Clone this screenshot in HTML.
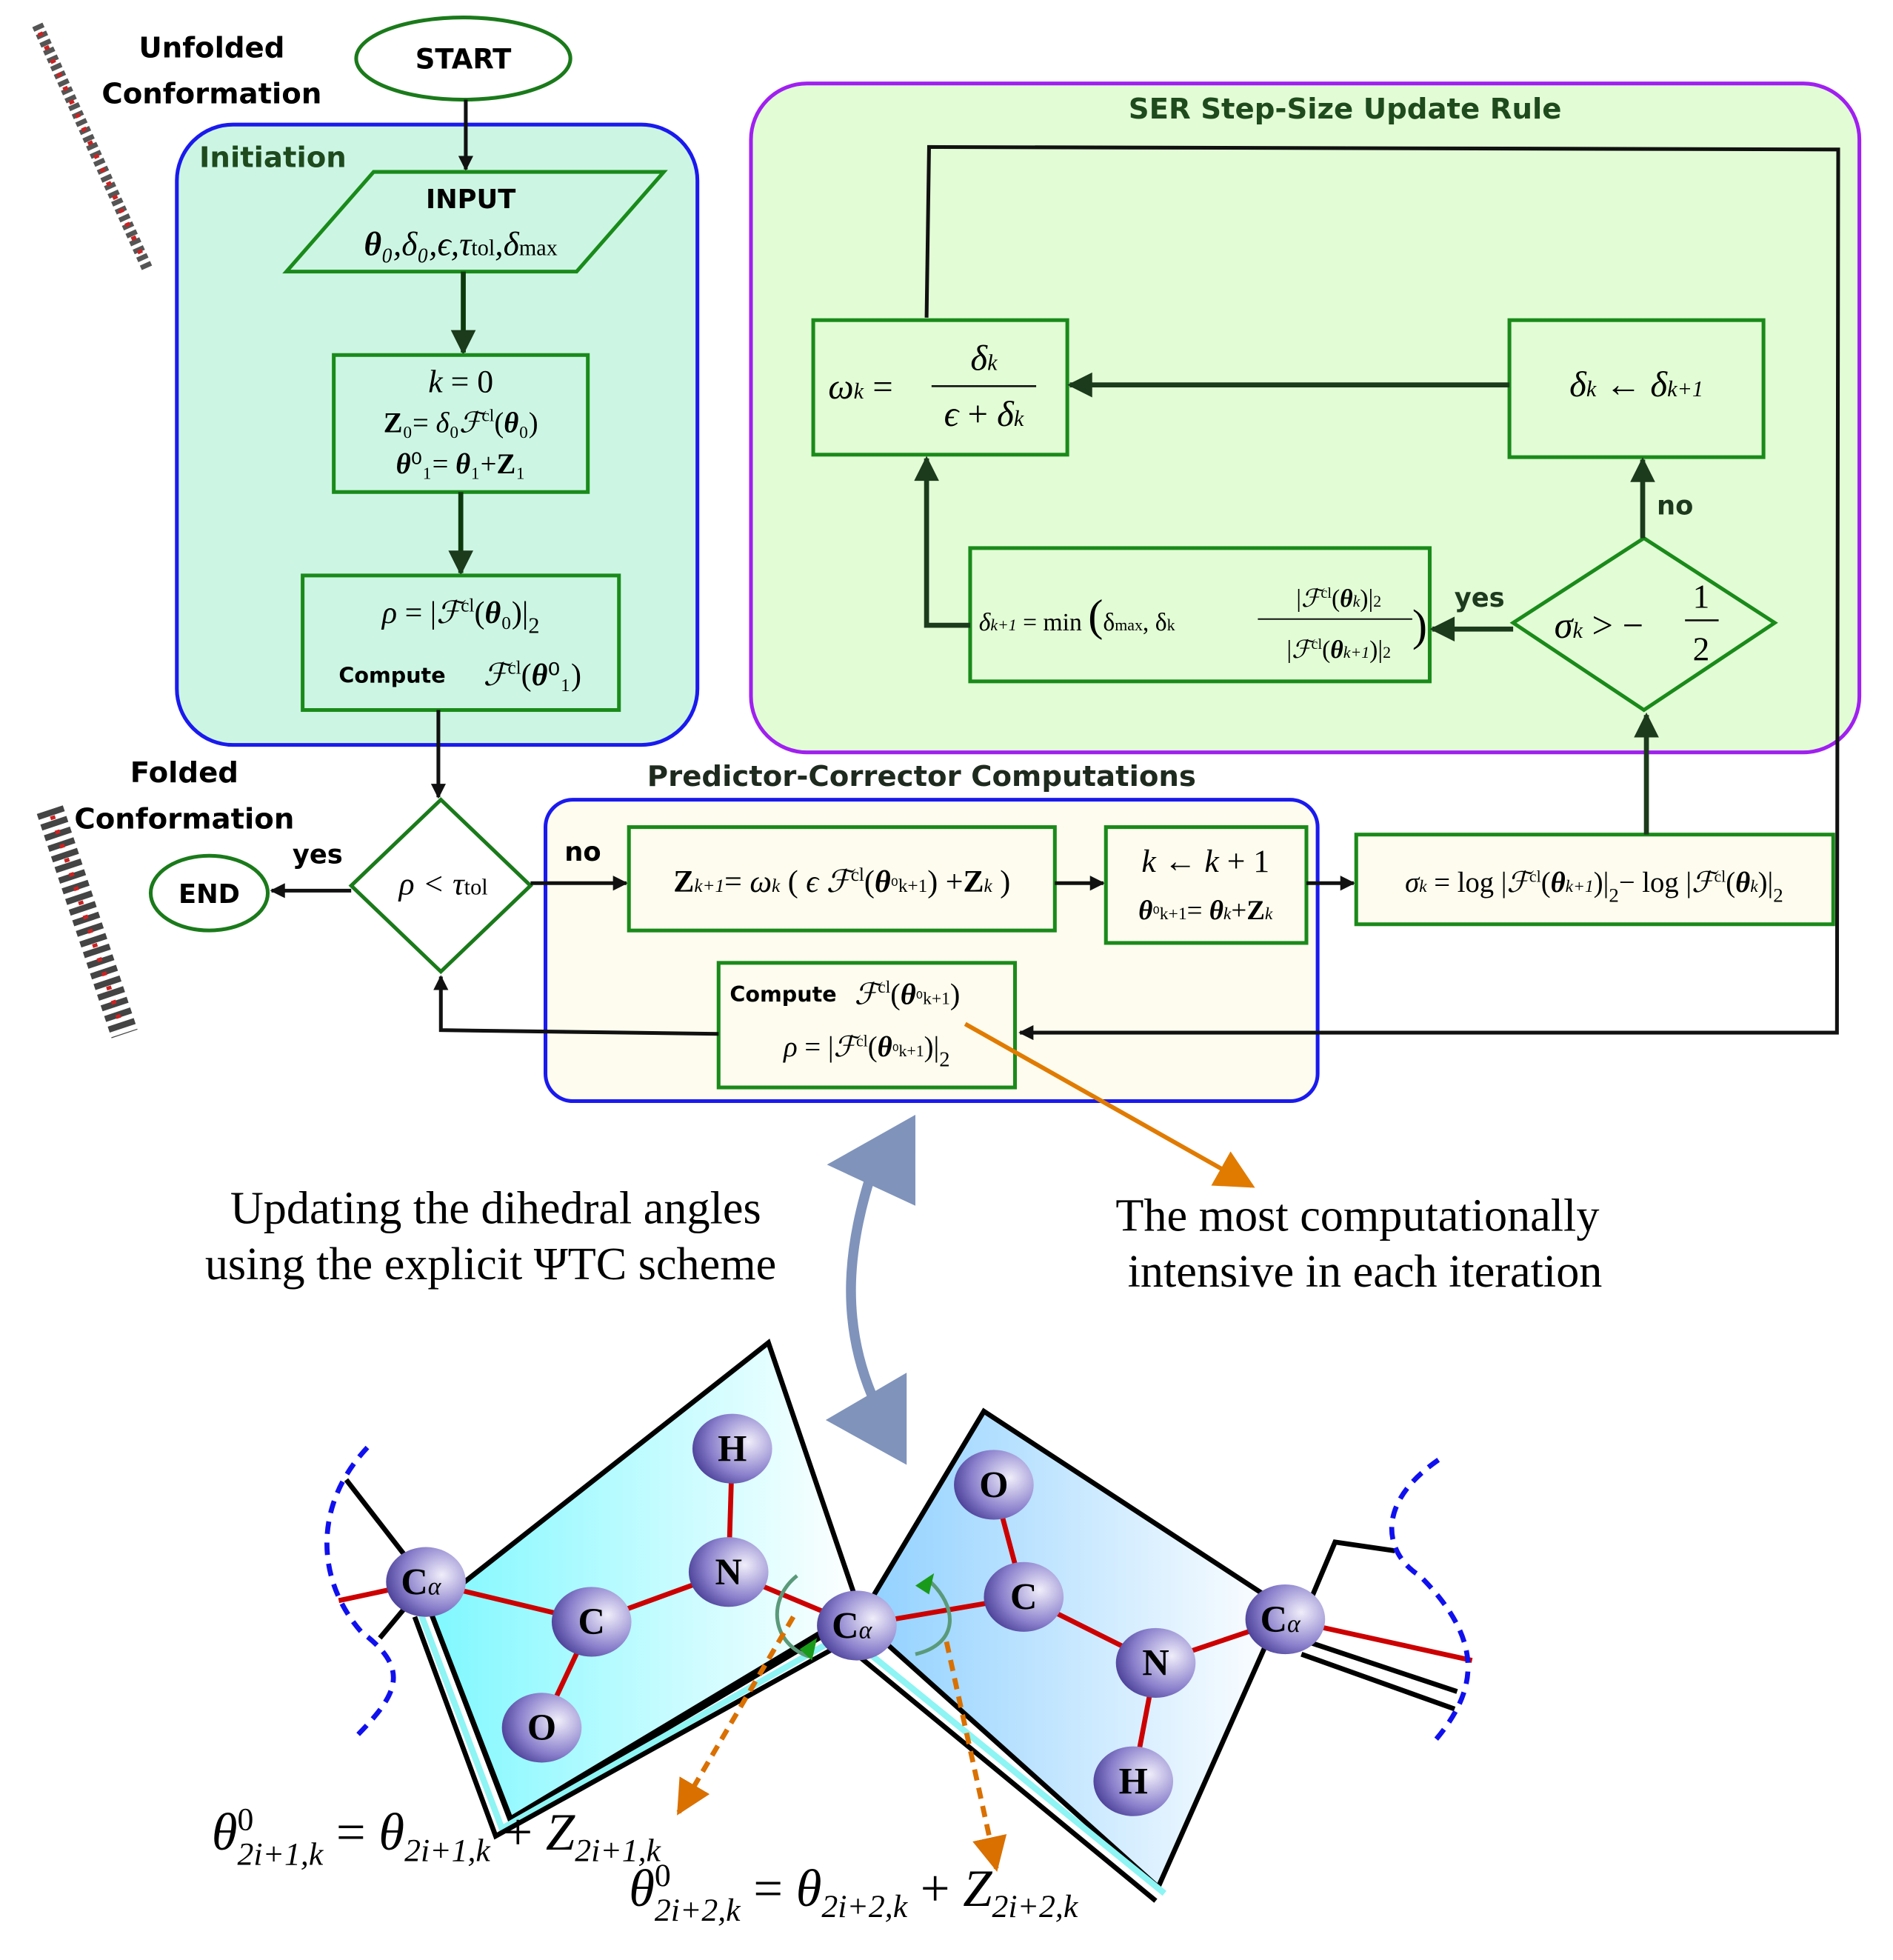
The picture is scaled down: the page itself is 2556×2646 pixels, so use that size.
<!DOCTYPE html>
<html><head><meta charset="utf-8"><style>
html,body{margin:0;padding:0;background:#fff}
svg{display:block}
.b{font-family:"DejaVu Sans","Liberation Sans",sans-serif;font-weight:bold}
.m{font-family:"Liberation Serif",serif}
</style></head><body>
<svg width="2556" height="2646" viewBox="0 0 1520 1573.5" xmlns="http://www.w3.org/2000/svg">
<defs>
<marker id="ah" viewBox="0 0 10 10" refX="9" refY="5" markerWidth="14" markerHeight="12" orient="auto" markerUnits="userSpaceOnUse"><path d="M0,0 L10,5 L0,10 z" fill="#111"/></marker>
<marker id="ahd" viewBox="0 0 10 10" refX="9" refY="5" markerWidth="22" markerHeight="20" orient="auto" markerUnits="userSpaceOnUse"><path d="M0,0 L10,5 L0,10 z" fill="#1c3a1c"/></marker>
<marker id="ao" viewBox="0 0 10 10" refX="9" refY="5" markerWidth="9" markerHeight="9" orient="auto"><path d="M0,0 L10,5 L0,10 z" fill="#e07b00"/></marker>
<marker id="aod" viewBox="0 0 10 10" refX="9" refY="5" markerWidth="7" markerHeight="9" orient="auto"><path d="M0,0 L10,5 L0,10 z" fill="#d97000"/></marker>
<linearGradient id="g1" x1="0" y1="0" x2="1" y2="0"><stop offset="0" stop-color="#7ff8ff"/><stop offset="1" stop-color="#ffffff"/></linearGradient>
<linearGradient id="g2" x1="0" y1="0" x2="1" y2="0"><stop offset="0" stop-color="#8fd0ff"/><stop offset="1" stop-color="#ffffff"/></linearGradient>
<radialGradient id="at" cx="0.7" cy="0.4" r="0.8"><stop offset="0" stop-color="#f0eefa"/><stop offset="0.6" stop-color="#8a80cc"/><stop offset="1" stop-color="#3a2f8a"/></radialGradient>
</defs>

<!-- molecule sketches top-left -->
<g stroke="#555" stroke-width="9" stroke-dasharray="4 3">
<line x1="30" y1="20" x2="118" y2="215"/>
</g>
<g stroke="#444" stroke-width="22" stroke-dasharray="5 4">
<line x1="40" y1="650" x2="100" y2="830"/>
</g>
<g stroke="#c22" stroke-width="4" stroke-dasharray="3 9"><line x1="32" y1="26" x2="116" y2="210"/><line x1="42" y1="655" x2="98" y2="825"/></g>
<text class="b" x="170" y="46" font-size="23" text-anchor="middle">Unfolded</text>
<text class="b" x="170" y="83" font-size="23" text-anchor="middle">Conformation</text>
<text class="b" x="148" y="628" font-size="23" text-anchor="middle">Folded</text>
<text class="b" x="148" y="665" font-size="23" text-anchor="middle">Conformation</text>

<!-- SER box -->
<rect x="603" y="67" width="890" height="537" rx="45" fill="#e2fdd5" stroke="#a020f0" stroke-width="3"/>
<text class="b" x="1080" y="95" font-size="23" fill="#1e4a1e" text-anchor="middle">SER Step-Size Update Rule</text>

<!-- Initiation box -->
<rect x="142" y="100" width="418" height="498" rx="45" fill="#ccf6e3" stroke="#1a1aee" stroke-width="3"/>
<text class="b" x="160" y="134" font-size="23" fill="#1e4a1e">Initiation</text>

<!-- Predictor box -->
<rect x="438" y="642" width="620" height="242" rx="22" fill="#fdfcee" stroke="#1a1aee" stroke-width="3"/>
<text class="b" x="740" y="631" font-size="23" fill="#1e2a1e" text-anchor="middle">Predictor-Corrector Computations</text>

<!-- START -->
<ellipse cx="372" cy="47" rx="86" ry="33" fill="#fff" stroke="#1a7a1a" stroke-width="3"/>
<text class="b" x="372" y="55" font-size="22" text-anchor="middle">START</text>
<line x1="374" y1="80" x2="374" y2="136" stroke="#111" stroke-width="3" marker-end="url(#ah)"/>

<!-- INPUT -->
<polygon points="300,138 533,138 463,218 230,218" fill="#ccf6e3" stroke="#1a8a1a" stroke-width="3"/>
<text class="b" x="378" y="167" font-size="21" text-anchor="middle">INPUT</text>
<text class="m" x="370" y="205" font-size="27" text-anchor="middle" font-style="italic"><tspan font-weight="bold">θ</tspan>₀,δ₀,ϵ,τ<tspan font-style="normal" font-size="18">tol</tspan>,δ<tspan font-style="normal" font-size="18">max</tspan></text>
<line x1="372" y1="218" x2="372" y2="283" stroke="#0d3a0d" stroke-width="4" marker-end="url(#ahd)"/>

<!-- k=0 box -->
<rect x="268" y="285" width="204" height="110" fill="#ccf6e3" stroke="#1a8a1a" stroke-width="3"/>
<text class="m" x="370" y="315" font-size="26" text-anchor="middle"><tspan font-style="italic">k</tspan> = 0</text>
<text class="m" x="370" y="347" font-size="23" text-anchor="middle"><tspan font-weight="bold">Z</tspan>₀= <tspan font-style="italic">δ</tspan>₀<tspan font-style="italic">ℱ</tspan><tspan font-size="14" dy="-9">cl</tspan><tspan dy="9">(</tspan><tspan font-weight="bold" font-style="italic">θ</tspan>₀)</text>
<text class="m" x="370" y="380" font-size="23" text-anchor="middle"><tspan font-weight="bold" font-style="italic">θ</tspan>⁰₁= <tspan font-weight="bold" font-style="italic">θ</tspan>₁+<tspan font-weight="bold">Z</tspan>₁</text>
<line x1="370" y1="395" x2="370" y2="460" stroke="#0d3a0d" stroke-width="4" marker-end="url(#ahd)"/>

<!-- rho box -->
<rect x="243" y="462" width="254" height="108" fill="#ccf6e3" stroke="#1a8a1a" stroke-width="3"/>
<text class="m" x="370" y="500" font-size="25" text-anchor="middle"><tspan font-style="italic">ρ</tspan> = |<tspan font-style="italic">ℱ</tspan><tspan font-size="15" dy="-9">cl</tspan><tspan dy="9">(</tspan><tspan font-weight="bold" font-style="italic">θ</tspan>₀)|<tspan font-size="18" dy="8">2</tspan></text>
<text class="b" x="272" y="548" font-size="17">Compute</text>
<text class="m" x="388" y="550" font-size="25"><tspan font-style="italic">ℱ</tspan><tspan font-size="15" dy="-9">cl</tspan><tspan dy="9">(</tspan><tspan font-weight="bold" font-style="italic">θ</tspan>⁰₁)</text>
<line x1="352" y1="570" x2="352" y2="640" stroke="#111" stroke-width="3" marker-end="url(#ah)"/>

<!-- diamond rho<tau -->
<polygon points="354,642 426,711 354,780 282,711" fill="#fff" stroke="#1a7a1a" stroke-width="3"/>
<text class="m" x="356" y="718" font-size="26" text-anchor="middle" font-style="italic">ρ &lt; τ<tspan font-style="normal" font-size="18">tol</tspan></text>
<line x1="282" y1="715" x2="218" y2="715" stroke="#111" stroke-width="3" marker-end="url(#ah)"/>
<text class="b" x="255" y="693" font-size="21" text-anchor="middle">yes</text>
<ellipse cx="168" cy="717" rx="47" ry="30" fill="#fff" stroke="#1a7a1a" stroke-width="3"/>
<text class="b" x="168" y="725" font-size="21" text-anchor="middle">END</text>
<line x1="426" y1="709" x2="503" y2="709" stroke="#111" stroke-width="3" marker-end="url(#ah)"/>
<text class="b" x="468" y="691" font-size="21" text-anchor="middle">no</text>

<!-- Z box -->
<rect x="505" y="664" width="342" height="83" fill="#fdfcee" stroke="#1a8a1a" stroke-width="3"/>
<text class="m" x="676" y="716" font-size="25" text-anchor="middle"><tspan font-weight="bold">Z</tspan><tspan font-size="15" font-style="italic">k+1</tspan>= <tspan font-style="italic">ω<tspan font-size="15">k</tspan></tspan> ( <tspan font-style="italic">ϵ ℱ</tspan><tspan font-size="15" dy="-9">cl</tspan><tspan dy="9">(</tspan><tspan font-weight="bold" font-style="italic">θ</tspan><tspan font-size="15">⁰k+1</tspan>) +<tspan font-weight="bold">Z</tspan><tspan font-size="15" font-style="italic">k</tspan> )</text>
<line x1="847" y1="709" x2="886" y2="709" stroke="#111" stroke-width="3" marker-end="url(#ah)"/>

<!-- k box -->
<rect x="888" y="664" width="161" height="93" fill="#fdfcee" stroke="#1a8a1a" stroke-width="3"/>
<text class="m" x="968" y="700" font-size="26" text-anchor="middle" font-style="italic">k ← k <tspan font-style="normal">+ 1</tspan></text>
<text class="m" x="968" y="738" font-size="22" text-anchor="middle"><tspan font-weight="bold" font-style="italic">θ</tspan><tspan font-size="14">⁰k+1</tspan>= <tspan font-weight="bold" font-style="italic">θ</tspan><tspan font-size="14" font-style="italic">k</tspan>+<tspan font-weight="bold">Z</tspan><tspan font-size="14" font-style="italic">k</tspan></text>
<line x1="1049" y1="709" x2="1087" y2="709" stroke="#111" stroke-width="3" marker-end="url(#ah)"/>

<!-- sigma box -->
<rect x="1089" y="670" width="383" height="72" fill="#fdfcee" stroke="#1a8a1a" stroke-width="3"/>
<text class="m" x="1280" y="716" font-size="23" text-anchor="middle"><tspan font-style="italic">σ<tspan font-size="14">k</tspan></tspan> = log |<tspan font-style="italic">ℱ</tspan><tspan font-size="13" dy="-8">cl</tspan><tspan dy="8">(</tspan><tspan font-weight="bold" font-style="italic">θ</tspan><tspan font-size="14" font-style="italic">k+1</tspan>)|<tspan font-size="16" dy="8">2</tspan><tspan dy="-8">− log |</tspan><tspan font-style="italic">ℱ</tspan><tspan font-size="13" dy="-8">cl</tspan><tspan dy="8">(</tspan><tspan font-weight="bold" font-style="italic">θ</tspan><tspan font-size="14" font-style="italic">k</tspan>)|<tspan font-size="16" dy="8">2</tspan></text>
<line x1="1322" y1="670" x2="1322" y2="574" stroke="#1c3a1c" stroke-width="4" marker-end="url(#ahd)"/>

<!-- compute box -->
<rect x="577" y="773" width="238" height="100" fill="#fdfcee" stroke="#1a8a1a" stroke-width="3"/>
<text class="b" x="586" y="804" font-size="17">Compute</text>
<text class="m" x="686" y="806" font-size="24"><tspan font-style="italic">ℱ</tspan><tspan font-size="14" dy="-9">cl</tspan><tspan dy="9">(</tspan><tspan font-weight="bold" font-style="italic">θ</tspan><tspan font-size="14">⁰k+1</tspan>)</text>
<text class="m" x="696" y="848" font-size="23" text-anchor="middle"><tspan font-style="italic">ρ</tspan> = |<tspan font-style="italic">ℱ</tspan><tspan font-size="13" dy="-8">cl</tspan><tspan dy="8">(</tspan><tspan font-weight="bold" font-style="italic">θ</tspan><tspan font-size="13">⁰k+1</tspan>)|<tspan font-size="17" dy="8">2</tspan></text>
<polyline points="577,830 354,827 354,784" fill="none" stroke="#111" stroke-width="3" marker-end="url(#ah)"/>

<!-- omega box -->
<rect x="653" y="257" width="204" height="108" fill="#e2fdd5" stroke="#1a8a1a" stroke-width="3"/>
<text class="m" x="665" y="320" font-size="29" font-style="italic">ω<tspan font-size="18">k</tspan> <tspan font-style="normal">=</tspan></text>
<text class="m" x="790" y="297" font-size="29" font-style="italic" text-anchor="middle">δ<tspan font-size="18">k</tspan></text>
<line x1="748" y1="310" x2="832" y2="310" stroke="#111" stroke-width="1.5"/>
<text class="m" x="790" y="342" font-size="29" font-style="italic" text-anchor="middle">ϵ <tspan font-style="normal">+</tspan> δ<tspan font-size="18">k</tspan></text>

<!-- delta box -->
<rect x="1212" y="257" width="204" height="110" fill="#e2fdd5" stroke="#1a8a1a" stroke-width="3"/>
<text class="m" x="1314" y="318" font-size="29" font-style="italic" text-anchor="middle">δ<tspan font-size="18">k</tspan> ← δ<tspan font-size="18">k+1</tspan></text>
<line x1="1212" y1="309" x2="859" y2="309" stroke="#1c3a1c" stroke-width="4" marker-end="url(#ahd)"/>

<!-- min box -->
<rect x="779" y="440" width="369" height="107" fill="#e2fdd5" stroke="#1a8a1a" stroke-width="3"/>
<text class="m" x="786" y="506" font-size="20"><tspan font-style="italic">δ<tspan font-size="13">k+1</tspan></tspan> = min <tspan font-size="36">(</tspan>δ<tspan font-size="13">max</tspan>, δ<tspan font-size="13">k</tspan></text>
<text class="m" x="1075" y="487" font-size="20" text-anchor="middle">|<tspan font-style="italic">ℱ</tspan><tspan font-size="12" dy="-7">cl</tspan><tspan dy="7">(</tspan><tspan font-weight="bold" font-style="italic">θ</tspan><tspan font-size="13" font-style="italic">k</tspan>)|<tspan font-size="13">2</tspan></text>
<line x1="1010" y1="497" x2="1134" y2="497" stroke="#111" stroke-width="1.2"/>
<text class="m" x="1075" y="528" font-size="20" text-anchor="middle">|<tspan font-style="italic">ℱ</tspan><tspan font-size="12" dy="-7">cl</tspan><tspan dy="7">(</tspan><tspan font-weight="bold" font-style="italic">θ</tspan><tspan font-size="13" font-style="italic">k+1</tspan>)|<tspan font-size="13">2</tspan></text>
<text class="m" x="1134" y="514" font-size="36">)</text>
<polyline points="779,502 744,502 744,368" fill="none" stroke="#1c3a1c" stroke-width="4" marker-end="url(#ahd)"/>

<!-- sigma diamond -->
<polygon points="1320,432 1425,500 1320,570 1215,500" fill="#e2fdd5" stroke="#1a8a1a" stroke-width="3"/>
<text class="m" x="1248" y="512" font-size="30" font-style="italic">σ<tspan font-size="18">k</tspan> <tspan font-style="normal">&gt; −</tspan></text>
<text class="m" x="1366" y="488" font-size="27" text-anchor="middle">1</text>
<line x1="1353" y1="498" x2="1380" y2="498" stroke="#111" stroke-width="1.5"/>
<text class="m" x="1366" y="530" font-size="27" text-anchor="middle">2</text>
<line x1="1215" y1="505" x2="1150" y2="505" stroke="#1c3a1c" stroke-width="4" marker-end="url(#ahd)"/>
<text class="b" x="1188" y="487" font-size="21" fill="#1e3a1e" text-anchor="middle">yes</text>
<line x1="1319" y1="432" x2="1319" y2="369" stroke="#1c3a1c" stroke-width="4" marker-end="url(#ahd)"/>
<text class="b" x="1345" y="413" font-size="21" fill="#1e3a1e" text-anchor="middle">no</text>

<!-- feedback loop -->
<polyline points="744,255 746,118 1476,120 1475,829 819,829" fill="none" stroke="#111" stroke-width="3" marker-end="url(#ah)"/>

<!-- orange arrow -->
<line x1="775" y1="822" x2="1005" y2="952" stroke="#e07b00" stroke-width="3.5" marker-end="url(#ao)"/>

<!-- captions -->
<text class="m" x="398" y="982" font-size="37" text-anchor="middle">Updating the dihedral angles</text>
<text class="m" x="394" y="1027" font-size="37" text-anchor="middle">using the explicit ΨTC scheme</text>
<text class="m" x="1090" y="988" font-size="37" text-anchor="middle">The most computationally</text>
<text class="m" x="1096" y="1033" font-size="37" text-anchor="middle">intensive in each iteration</text>

<!-- big double arrow -->
<path d="M702,935 C680,1000 675,1060 700,1120" fill="none" stroke="#7f93bb" stroke-width="8"/>
<polygon points="664,935 735,895 735,968" fill="#7f93bb"/>
<polygon points="663,1140 728,1102 728,1176" fill="#7f93bb"/>

<!-- molecule planes -->
<polygon points="345,1292 617,1078 690,1292 410,1460" fill="url(#g1)" stroke="#000" stroke-width="4"/>
<polyline points="345,1292 410,1462 690,1296" fill="none" stroke="#000" stroke-width="4"/>
<polyline points="338,1296 403,1468 690,1305" fill="none" stroke="#8ef4f4" stroke-width="5"/>
<polyline points="333,1298 398,1474 690,1312" fill="none" stroke="#000" stroke-width="4"/>
<polygon points="690,1300 790,1133 1030,1290 930,1515" fill="url(#g2)" stroke="#000" stroke-width="4"/>
<polyline points="695,1325 935,1520" fill="none" stroke="#8ef4f4" stroke-width="5"/>
<polyline points="690,1330 928,1526" fill="none" stroke="#000" stroke-width="4"/>
<!-- side bonds -->
<g stroke="#000" stroke-width="4" fill="none">
<line x1="278" y1="1188" x2="330" y2="1255"/>
<line x1="305" y1="1315" x2="330" y2="1285"/>
<polyline points="1050,1290 1072,1238 1120,1245"/>
<line x1="1050" y1="1318" x2="1170" y2="1358"/>
<line x1="1045" y1="1328" x2="1168" y2="1372"/>
</g>
<g stroke="#c00" stroke-width="4" fill="none">
<line x1="272" y1="1285" x2="342" y2="1270"/>
<line x1="342" y1="1270" x2="475" y2="1302"/>
<line x1="475" y1="1302" x2="585" y2="1262"/>
<line x1="585" y1="1262" x2="588" y2="1163"/>
<line x1="475" y1="1302" x2="435" y2="1387"/>
<line x1="585" y1="1262" x2="688" y2="1305"/>
<line x1="688" y1="1305" x2="822" y2="1282"/>
<line x1="822" y1="1282" x2="798" y2="1192"/>
<line x1="822" y1="1282" x2="928" y2="1335"/>
<line x1="928" y1="1335" x2="910" y2="1430"/>
<line x1="928" y1="1335" x2="1032" y2="1300"/>
<line x1="1032" y1="1300" x2="1182" y2="1333"/>
</g>
<!-- dashed blue -->
<g stroke="#1010ee" stroke-width="4" fill="none" stroke-dasharray="10 7">
<path d="M295,1162 C250,1210 255,1270 290,1310 C330,1340 320,1360 285,1395"/>
<path d="M1155,1172 C1100,1210 1115,1250 1140,1265 C1195,1320 1185,1360 1150,1400"/>
</g>
<!-- rotation arrows -->
<g stroke="#5a9a7a" stroke-width="3" fill="none">
<path d="M640,1265 C615,1285 620,1320 650,1330"/>
<path d="M745,1268 C770,1290 770,1320 735,1328"/>
</g>
<polygon points="642,1324 656,1315 652,1333" fill="#1a9a1a"/>
<polygon points="735,1273 750,1263 746,1280" fill="#1a9a1a"/>
<!-- atoms -->
<g font-family="Liberation Serif,serif" font-weight="bold" font-size="30" text-anchor="middle">
<ellipse cx="342" cy="1270" rx="32" ry="28" fill="url(#at)"/><text x="338" y="1280">C<tspan font-size="20" font-style="italic" font-weight="normal">α</tspan></text>
<ellipse cx="475" cy="1302" rx="32" ry="28" fill="url(#at)"/><text x="475" y="1312">C</text>
<ellipse cx="585" cy="1262" rx="32" ry="28" fill="url(#at)"/><text x="585" y="1272">N</text>
<ellipse cx="588" cy="1163" rx="32" ry="28" fill="url(#at)"/><text x="588" y="1173">H</text>
<ellipse cx="435" cy="1387" rx="32" ry="28" fill="url(#at)"/><text x="435" y="1397">O</text>
<ellipse cx="688" cy="1305" rx="32" ry="28" fill="url(#at)"/><text x="684" y="1315">C<tspan font-size="20" font-style="italic" font-weight="normal">α</tspan></text>
<ellipse cx="822" cy="1282" rx="32" ry="28" fill="url(#at)"/><text x="822" y="1292">C</text>
<ellipse cx="798" cy="1192" rx="32" ry="28" fill="url(#at)"/><text x="798" y="1202">O</text>
<ellipse cx="928" cy="1335" rx="32" ry="28" fill="url(#at)"/><text x="928" y="1345">N</text>
<ellipse cx="910" cy="1430" rx="32" ry="28" fill="url(#at)"/><text x="910" y="1440">H</text>
<ellipse cx="1032" cy="1300" rx="32" ry="28" fill="url(#at)"/><text x="1028" y="1310">C<tspan font-size="20" font-style="italic" font-weight="normal">α</tspan></text>
</g>
<!-- orange dashed -->
<line x1="637" y1="1298" x2="545" y2="1455" stroke="#d97000" stroke-width="4" stroke-dasharray="9 6" marker-end="url(#aod)"/>
<line x1="760" y1="1318" x2="800" y2="1500" stroke="#d97000" stroke-width="4" stroke-dasharray="9 6" marker-end="url(#aod)"/>
<!-- equations -->
<text class="m" x="170" y="1485" font-size="42" font-style="italic">θ<tspan font-size="26" font-style="normal" dy="-16">0</tspan><tspan font-size="26" dx="-13" dy="28">2i+1,k</tspan><tspan dy="-12" font-style="normal"> = </tspan>θ<tspan font-size="26" dy="9">2i+1,k</tspan><tspan dy="-9" font-style="normal"> + </tspan>Z<tspan font-size="26" dy="9">2i+1,k</tspan></text>
<text class="m" x="505" y="1530" font-size="42" font-style="italic">θ<tspan font-size="26" font-style="normal" dy="-16">0</tspan><tspan font-size="26" dx="-13" dy="28">2i+2,k</tspan><tspan dy="-12" font-style="normal"> = </tspan>θ<tspan font-size="26" dy="9">2i+2,k</tspan><tspan dy="-9" font-style="normal"> + </tspan>Z<tspan font-size="26" dy="9">2i+2,k</tspan></text>
</svg>
</body></html>
